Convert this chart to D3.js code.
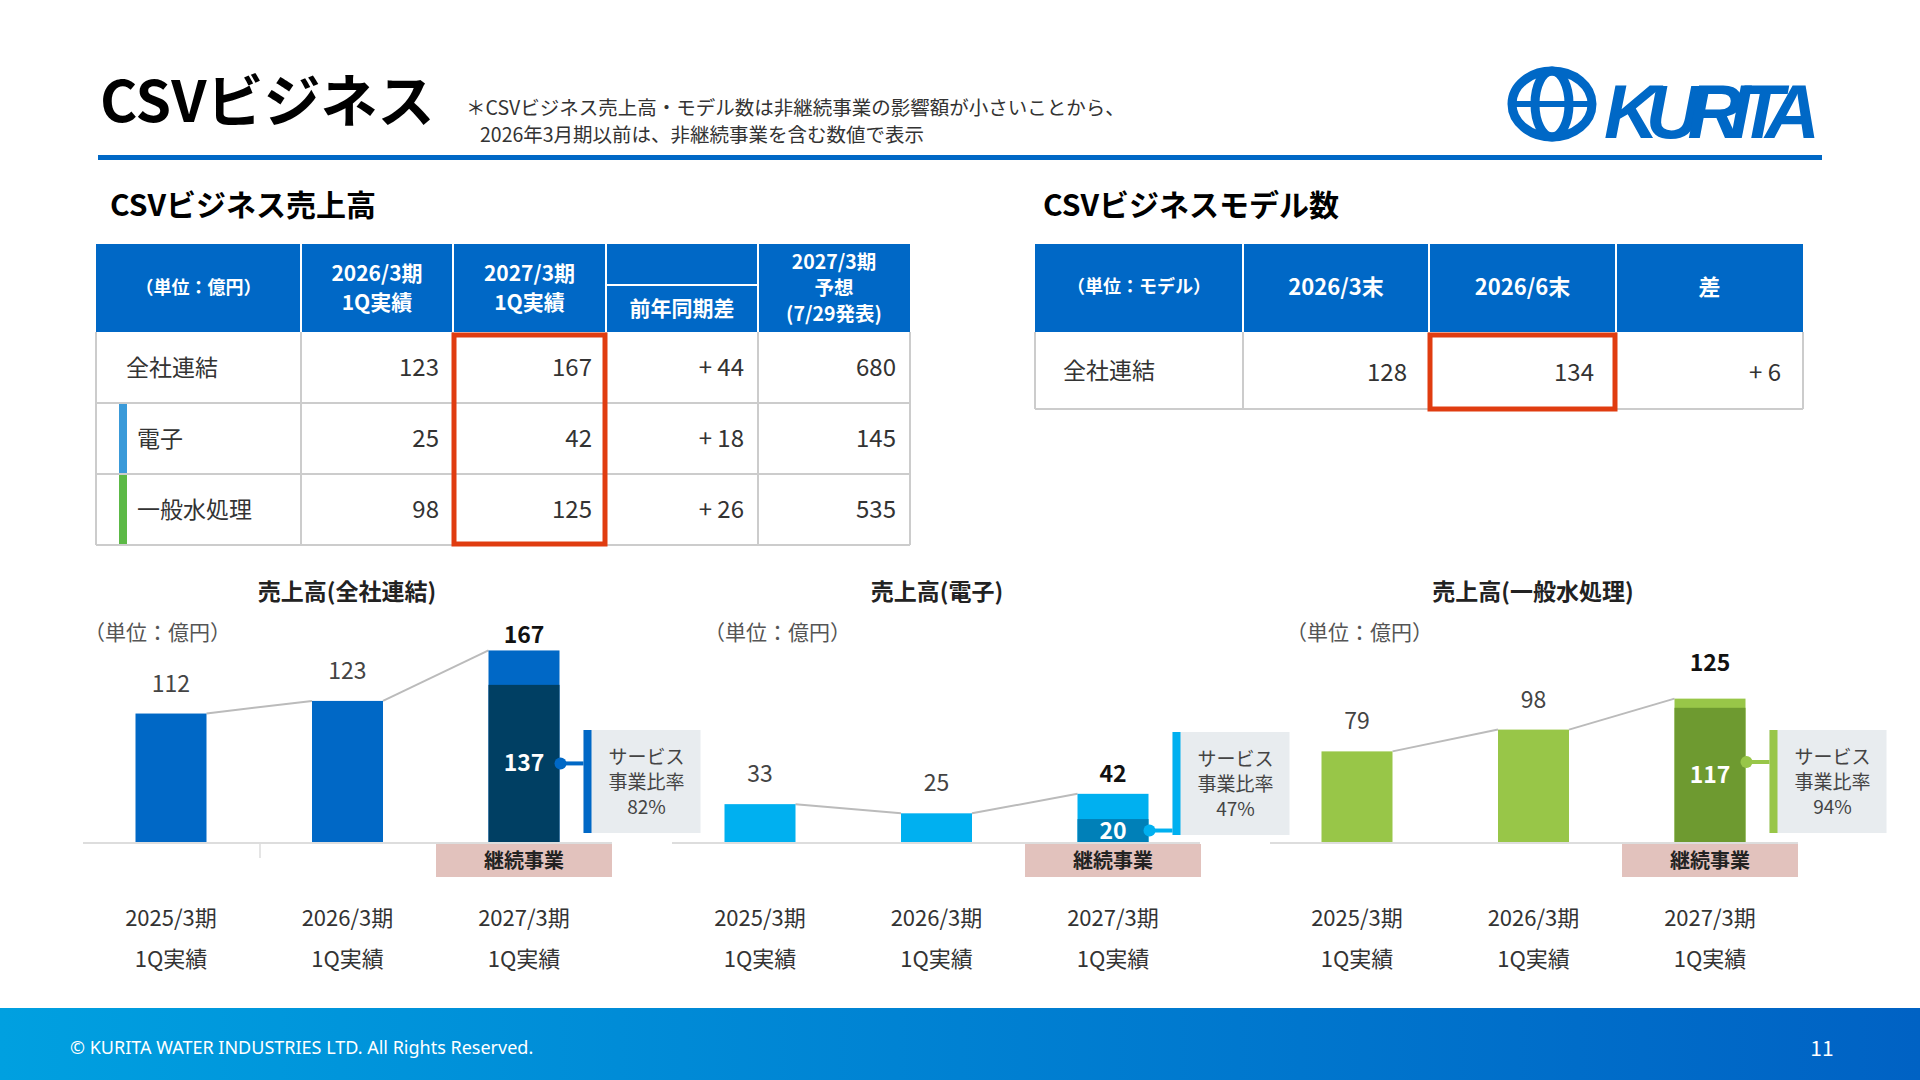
<!DOCTYPE html>
<html><head><meta charset="utf-8">
<script src="https://d3js.org/d3.v7.min.js"></script>
<style>body{margin:0;background:#fff}svg{font-family:"Noto Sans CJK JP","Noto Sans",sans-serif}</style>
</head><body>
<svg id="c" width="1920" height="1080"></svg>
<script>
// ---- data ----
const periods = ["2025/3期", "2026/3期", "2027/3期"];
const periodSub = "1Q実績";
const salesTotal = [112, 123, 167];
const salesElec = [33, 25, 42];
const salesWater = [79, 98, 125];
const contTotal = 137, contElec = 20, contWater = 117;
const ratioTotal = "82%", ratioElec = "47%", ratioWater = "94%";
const t1Header = ["（単位：億円）", "2026/3期\n1Q実績", "2027/3期\n1Q実績", "前年同期差", "2027/3期\n予想\n(7/29発表)"];
const t1Rows = ["全社連結", "電子", "一般水処理"];
const t1Prev = [123, 25, 98];
const t1Curr = [167, 42, 125];
const t1Diff = ["+ 44", "+ 18", "+ 26"];
const t1Fcst = [680, 145, 535];
const t2Header = ["（単位：モデル）", "2026/3末", "2026/6末", "差"];
const t2Rows = ["全社連結"];
const t2Vals = [[128, 134, "+ 6"]];

const svg = d3.select("#c");
const BLUE = "#0068c6";

// ---- header ----
svg.append("text").attr("x", 100).attr("y", 122).attr("font-size", 57).attr("font-weight", 700).text("CSVビジネス");
svg.append("text").attr("x", 466).attr("y", 115).attr("font-size", 19.5).attr("fill", "#333").text("＊CSVビジネス売上高・モデル数は非継続事業の影響額が小さいことから、");
svg.append("text").attr("x", 480).attr("y", 142).attr("font-size", 19.5).attr("fill", "#333").text("2026年3月期以前は、非継続事業を含む数値で表示");
svg.append("rect").attr("x", 98).attr("y", 155).attr("width", 1724).attr("height", 5).attr("fill", BLUE);
// logo
const lg = svg.append("g").attr("fill", "none").attr("stroke", BLUE).attr("stroke-width", 9);
lg.append("ellipse").attr("cx", 1552).attr("cy", 104).attr("rx", 40).attr("ry", 33);
lg.append("ellipse").attr("cx", 1552).attr("cy", 104).attr("rx", 17).attr("ry", 33);
lg.append("line").attr("x1", 1512).attr("x2", 1592).attr("y1", 104).attr("y2", 104).attr("stroke-width", 6);
svg.append("text").attr("x", 1604).attr("y", 138).attr("font-size", 76).attr("font-weight", 900).attr("font-style", "italic")
  .attr("font-family", "Liberation Sans").attr("fill", BLUE).attr("textLength", 216).text("KURITA");

// ---- section titles ----
svg.append("text").attr("x", 110).attr("y", 216).attr("font-size", 30).attr("font-weight", 700).text("CSVビジネス売上高");
svg.append("text").attr("x", 1043).attr("y", 216).attr("font-size", 30).attr("font-weight", 700).text("CSVビジネスモデル数");

function multiText(g, x, y, lines, size, lh, attrs) {
  const n = lines.length;
  lines.forEach((l, i) => {
    const t = g.append("text").attr("x", x).attr("y", y + (i - (n - 1) / 2) * lh).attr("dy", "0.35em")
      .attr("text-anchor", "middle").attr("font-size", size).text(l);
    for (const k in attrs) t.attr(k, attrs[k]);
  });
}

// ---- table 1 ----
const c1 = [96, 301, 453, 606, 758, 910];
const hT = 244, hB = 332, rowH = 71;
const t1 = svg.append("g");
t1.append("rect").attr("x", c1[0]).attr("y", hT).attr("width", c1[5] - c1[0]).attr("height", hB - hT).attr("fill", BLUE);
for (let i = 1; i < 5; i++) t1.append("line").attr("x1", c1[i]).attr("x2", c1[i]).attr("y1", hT).attr("y2", hB).attr("stroke", "#fff").attr("stroke-width", 2);
t1.append("line").attr("x1", c1[3]).attr("x2", c1[4]).attr("y1", 285).attr("y2", 285).attr("stroke", "#fff").attr("stroke-width", 2);
t1Header.forEach((h, i) => {
  const cx = (c1[i] + c1[i + 1]) / 2;
  if (i == 3) multiText(t1, cx, 309, [h], 21, 0, { fill: "#fff", "font-weight": 700 });
  else if (i == 0) multiText(t1, cx, 288, [h], 18, 0, { fill: "#fff", "font-weight": 700 });
  else multiText(t1, cx, 288, h.split("\n"), i == 4 ? 19.5 : 21, i == 4 ? 26 : 29, { fill: "#fff", "font-weight": 700 });
});
t1Rows.forEach((r, j) => {
  const y0 = hB + j * rowH, ym = y0 + rowH / 2;
  t1.append("line").attr("x1", c1[0]).attr("x2", c1[5]).attr("y1", y0 + rowH).attr("y2", y0 + rowH).attr("stroke", "#ccc").attr("stroke-width", 2);
  if (j > 0) t1.append("rect").attr("x", 119).attr("y", y0 + 1).attr("width", 8).attr("height", rowH - 2).attr("fill", j == 1 ? "#3a9ad9" : "#5cb946");
  t1.append("text").attr("x", j == 0 ? 126 : 137).attr("y", ym).attr("dy", "0.35em").attr("font-size", 23).attr("fill", "#333").text(r);
  [t1Prev[j], t1Curr[j], t1Diff[j], t1Fcst[j]].forEach((v, k) => {
    t1.append("text").attr("x", c1[k + 2] - 14).attr("y", ym).attr("dy", "0.35em").attr("text-anchor", "end").attr("font-size", 24).attr("fill", "#333").text(v);
  });
});
for (let i = 0; i < 6; i++) t1.append("line").attr("x1", c1[i]).attr("x2", c1[i]).attr("y1", hB).attr("y2", hB + 3 * rowH).attr("stroke", "#ccc").attr("stroke-width", 2);
t1.append("rect").attr("x", 454).attr("y", 335).attr("width", 151).attr("height", 209).attr("fill", "none").attr("stroke", "#e03c10").attr("stroke-width", 5);

// ---- table 2 ----
const c2 = [1035, 1243, 1429, 1616, 1803];
const t2 = svg.append("g");
t2.append("rect").attr("x", c2[0]).attr("y", hT).attr("width", c2[4] - c2[0]).attr("height", hB - hT).attr("fill", BLUE);
for (let i = 1; i < 4; i++) t2.append("line").attr("x1", c2[i]).attr("x2", c2[i]).attr("y1", hT).attr("y2", hB).attr("stroke", "#fff").attr("stroke-width", 2);
t2Header.forEach((h, i) => multiText(t2, (c2[i] + c2[i + 1]) / 2, 287, [h], i == 0 ? 18 : 22, 0, { fill: "#fff", "font-weight": 700 }));
const r2H = 77;
t2.append("line").attr("x1", c2[0]).attr("x2", c2[4]).attr("y1", hB + r2H).attr("y2", hB + r2H).attr("stroke", "#ccc").attr("stroke-width", 2);
for (let i = 0; i < 5; i++) t2.append("line").attr("x1", c2[i]).attr("x2", c2[i]).attr("y1", hB).attr("y2", hB + r2H).attr("stroke", "#ccc").attr("stroke-width", 2);
t2.append("text").attr("x", 1063).attr("y", hB + r2H / 2).attr("dy", "0.35em").attr("font-size", 23).attr("fill", "#333").text(t2Rows[0]);
t2Vals[0].forEach((v, k) => t2.append("text").attr("x", c2[k + 2] - 22).attr("y", hB + r2H / 2 + 2).attr("dy", "0.35em").attr("text-anchor", "end").attr("font-size", 24).attr("fill", "#333").text(v));
t2.append("rect").attr("x", 1430).attr("y", 335).attr("width", 185).attr("height", 74).attr("fill", "none").attr("stroke", "#e03c10").attr("stroke-width", 5);

// ---- bar charts ----
const baseY = 842;
const y = d3.scaleLinear().domain([0, 100]).range([baseY, baseY - 114.7]);
function chart(o) {
  const g = svg.append("g");
  const x = d3.scalePoint().domain(periods).range([o.x0, o.x0 + 353]);
  const bw = 71;
  g.append("text").attr("x", o.tx).attr("y", 600).attr("text-anchor", "middle").attr("font-size", 23).attr("font-weight", 700).attr("fill", "#222").text(o.title);
  g.append("text").attr("x", o.ux).attr("y", 640).attr("font-size", 21).attr("fill", "#555").text("（単位：億円）");
  g.append("line").attr("x1", o.ax0).attr("x2", o.ax1).attr("y1", baseY + 1).attr("y2", baseY + 1).attr("stroke", "#ddd").attr("stroke-width", 2);
  if (o.tick) g.append("line").attr("x1", o.tick).attr("x2", o.tick).attr("y1", baseY).attr("y2", baseY + 16).attr("stroke", "#ddd").attr("stroke-width", 1.5);
  for (let i = 0; i < 2; i++) g.append("line").attr("x1", x(periods[i]) + bw / 2).attr("y1", y(o.vals[i]))
    .attr("x2", x(periods[i + 1]) - bw / 2).attr("y2", y(o.vals[i + 1])).attr("stroke", "#bbb").attr("stroke-width", 2);
  o.vals.forEach((v, i) => {
    const cx = x(periods[i]);
    g.append("rect").attr("x", cx - bw / 2).attr("y", y(v)).attr("width", bw).attr("height", baseY - y(v)).attr("fill", o.col);
    g.append("text").attr("x", cx).attr("y", y(v) - (i == 2 ? o.lastOff : 30)).attr("dy", "0.35em").attr("text-anchor", "middle").attr("font-size", 23)
      .attr("font-weight", i == 2 ? 700 : 400).attr("fill", i == 2 ? "#111" : "#444").text(v);
    g.append("text").attr("x", cx).attr("y", 918).attr("dy", "0.35em").attr("text-anchor", "middle").attr("font-size", 22).attr("fill", "#333").text(periods[i]);
    g.append("text").attr("x", cx).attr("y", 959).attr("dy", "0.35em").attr("text-anchor", "middle").attr("font-size", 22).attr("fill", "#333").text(periodSub);
  });
  const cx = x(periods[2]);
  g.append("rect").attr("x", cx - bw / 2).attr("y", y(o.cont)).attr("width", bw).attr("height", baseY - y(o.cont)).attr("fill", o.dark);
  const ly = (y(o.cont) + baseY) / 2;
  g.append("text").attr("x", cx).attr("y", ly).attr("dy", "0.35em").attr("text-anchor", "middle").attr("font-size", 23).attr("font-weight", 700).attr("fill", "#fff").text(o.cont);
  g.append("rect").attr("x", cx - 88).attr("y", baseY + 2).attr("width", 176).attr("height", 33).attr("fill", "#e2c2bd");
  g.append("text").attr("x", cx).attr("y", baseY + 19).attr("dy", "0.35em").attr("text-anchor", "middle").attr("font-size", 20).attr("font-weight", 700).attr("fill", "#222").text("継続事業");
  const bx = cx + bw / 2 + 24, by = o.by;
  g.append("rect").attr("x", bx).attr("y", by).attr("width", 117).attr("height", 103).attr("fill", "#e8ecef");
  g.append("rect").attr("x", bx).attr("y", by).attr("width", 8).attr("height", 103).attr("fill", o.acc);
  const dy = o.dotY || ly;
  g.append("line").attr("x1", cx + bw / 2).attr("x2", bx).attr("y1", dy).attr("y2", dy).attr("stroke", o.acc).attr("stroke-width", 4);
  g.append("circle").attr("cx", cx + bw / 2 + 1).attr("cy", dy).attr("r", 6).attr("fill", o.acc);
  multiText(g, bx + 63, by + 52, ["サービス", "事業比率", o.ratio], 19, 25, { fill: "#444" });
}
chart({ x0: 171, title: "売上高(全社連結)", tx: 347, ux: 84, ax0: 83, ax1: 612, tick: 260, vals: salesTotal, cont: contTotal, col: "#0068c6", dark: "#003f63", acc: "#0068c6", ratio: ratioTotal, by: 730, lastOff: 16 });
chart({ x0: 760, title: "売上高(電子)", tx: 937, ux: 704, ax0: 672, ax1: 1200, vals: salesElec, cont: contElec, col: "#00b0f0", dark: "#0080b8", acc: "#00b0f0", ratio: ratioElec, by: 732, lastOff: 20 });
chart({ x0: 1357, title: "売上高(一般水処理)", tx: 1533, ux: 1286, ax0: 1270, ax1: 1798, vals: salesWater, cont: contWater, col: "#98c648", dark: "#6e9a30", acc: "#98c648", ratio: ratioWater, by: 730, dotY: 762, lastOff: 36 });

// ---- footer ----
const grad = svg.append("defs").append("linearGradient").attr("id", "fg");
grad.append("stop").attr("offset", "0").attr("stop-color", "#00a0e0");
grad.append("stop").attr("offset", "1").attr("stop-color", "#0062c4");
svg.append("rect").attr("x", 0).attr("y", 1008).attr("width", 1920).attr("height", 72).attr("fill", "url(#fg)");
svg.append("text").attr("x", 70).attr("y", 1048).attr("dy", "0.35em").attr("font-size", 18).attr("fill", "#fff").attr("font-family", "Noto Sans").text("© KURITA WATER INDUSTRIES LTD. All Rights Reserved.");
svg.append("text").attr("x", 1822).attr("y", 1049).attr("dy", "0.35em").attr("text-anchor", "middle").attr("font-size", 21).attr("fill", "#fff").text("11");
</script>
</body></html>
